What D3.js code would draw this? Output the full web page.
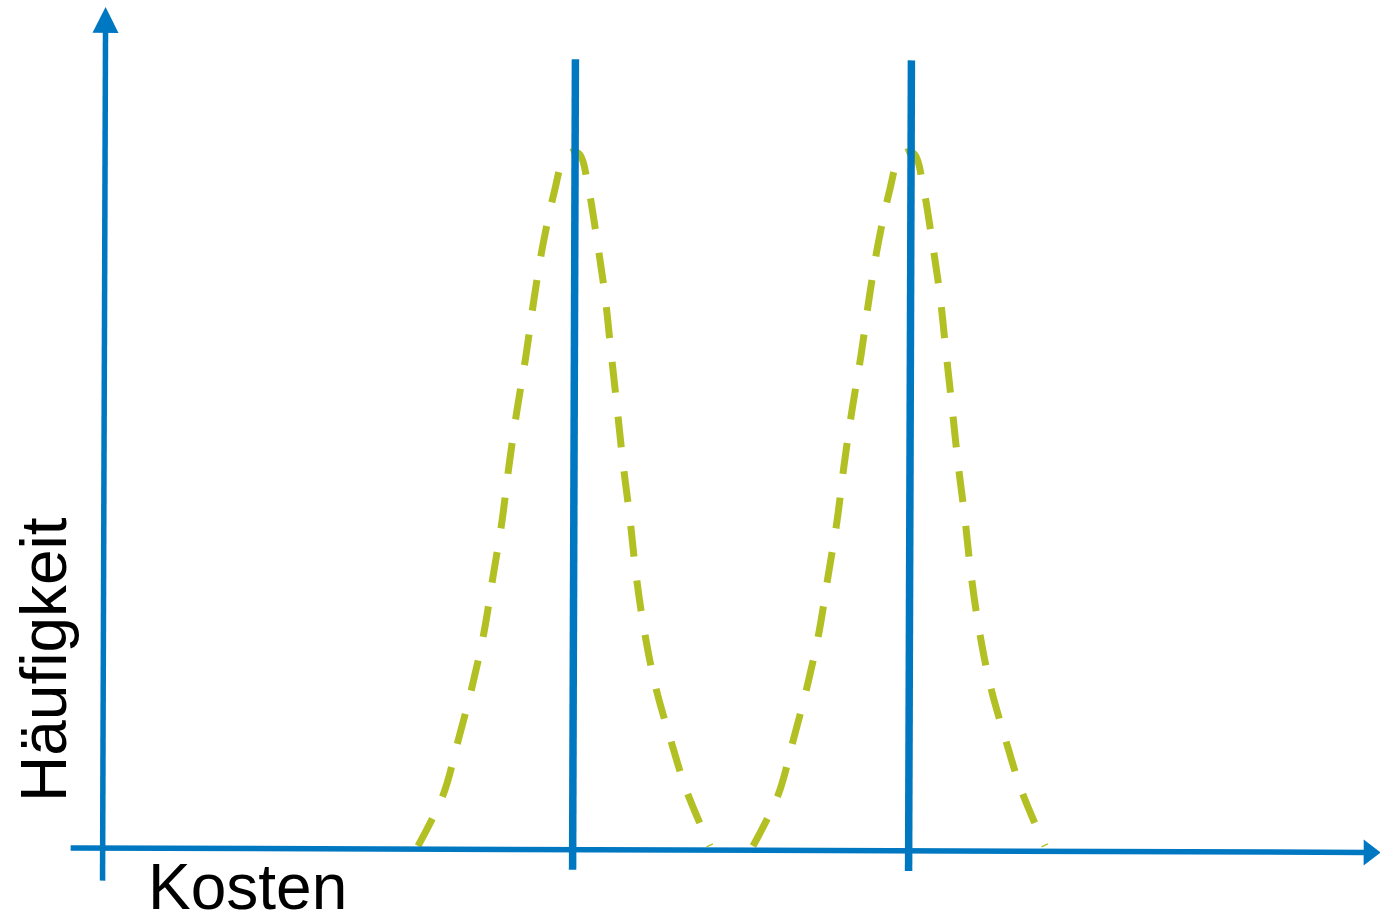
<!DOCTYPE html>
<html lang="de">
	<head>
		<meta charset="utf-8">
		<title>Kosten / Häufigkeit</title>
		<script src="https://d3js.org/d3.v7.min.js" charset="utf-8"></script>
		<style>
			body { margin: 0; background: #fff; }
			svg { display: block; }
		</style>
	</head>
	<body>
		<script type="text/javascript">
			// axis labels
			const xLabel = "Kosten",
				  yLabel = "Häufigkeit";

			// first distribution (cost, frequency)
			const curve1Cost = [31.4, 33.9, 35.4, 36.8, 38.0, 38.9, 39.8, 40.5, 41.3, 42.2, 43.0, 43.9, 45.1, 45.9, 46.8,
								47.6, 48.4, 49.3, 50.1, 50.7, 51.3, 51.9, 52.6, 53.2, 54.0, 55.1, 56.6, 58.3, 60.6];
			const curve1Freq = [0, 7.3, 15.1, 22.9, 30.8, 38.8, 46.8, 54.8, 62.8, 70.7, 78.8, 86.7, 94.7, 98.8, 100,
								99.6, 95.2, 87.3, 79.3, 71.2, 63.3, 55.2, 47.1, 39.2, 31.3, 23.3, 15.6, 7.8, 0];

			// second distribution
			const curve2Cost = [64.9, 67.4, 68.9, 70.3, 71.5, 72.4, 73.3, 74.0, 74.8, 75.7, 76.5, 77.4, 78.6, 79.4, 80.3,
								81.1, 81.9, 82.8, 83.6, 84.2, 84.8, 85.4, 86.1, 86.7, 87.5, 88.6, 90.1, 91.8, 94.1];
			const curve2Freq = [0, 7.3, 15.1, 22.9, 30.8, 38.8, 46.8, 54.8, 62.8, 70.7, 78.8, 86.7, 94.7, 98.8, 100,
								99.6, 95.2, 87.3, 79.3, 71.2, 63.3, 55.2, 47.1, 39.2, 31.3, 23.3, 15.6, 7.8, 0];

			// vertical markers (cost) and their extent (frequency)
			const markerCost = [47.0, 80.6];
			const markerFreq = [-3.5, 113.3];

			// axes extents
			const xAxisCost = [-3.2, 127.8],
				  xAxisFreq = -0.6,
				  yAxisFreq = [-5.3, 120.6];

			const width = 1380,
				  height = 921,
				  blue = "#0077c1",
				  green = "#b3c024",
				  font = "'Liberation Sans', Arial, sans-serif",
				  tilt = 0.2,

				  x = d3.scaleLinear()
				  		.domain([0, 127.6])
				  		.range([104, 1380]),
				  y = d3.scaleLinear()
				  		.domain([0, 100])
				  		.range([846, 152]);

			const svg = d3.select("body").append("svg")
				.attr("width", width)
				.attr("height", height);

			// curves
			const line = d3.line()
				.x(d => x(d[0]))
				.y(d => y(d[1]))
				.curve(d3.curveCatmullRom.alpha(0.5));

			const curves = [
				d3.zip(curve1Cost, curve1Freq),
				d3.zip(curve2Cost, curve2Freq)
			];

			svg.selectAll("path.dist")
				.data(curves)
				.join("path")
				.attr("class", "dist")
				.attr("d", line)
				.attr("fill", "none")
				.attr("stroke", green)
				.attr("stroke-width", 7)
				.attr("stroke-dasharray", "31,24");

			// slightly tilted, hand drawn look
			const g = svg.append("g")
				.attr("transform", `rotate(${tilt},720,465)`);

			g.selectAll("line.marker")
				.data(markerCost)
				.join("line")
				.attr("class", "marker")
				.attr("x1", d => x(d))
				.attr("x2", d => x(d))
				.attr("y1", y(markerFreq[0]))
				.attr("y2", y(markerFreq[1]))
				.attr("stroke", blue)
				.attr("stroke-width", 7.5);

			// y axis
			const yTip = y(yAxisFreq[1]), x0 = x(0);
			g.append("line")
				.attr("x1", x0).attr("x2", x0)
				.attr("y1", y(yAxisFreq[0])).attr("y2", yTip + 24)
				.attr("stroke", blue)
				.attr("stroke-width", 5.5);
			g.append("path")
				.attr("d", `M${x0},${yTip}L${x0 + 13},${yTip + 26}L${x0 - 13},${yTip + 26}Z`)
				.attr("fill", blue);

			// x axis
			const xTip = x(xAxisCost[1]), y0 = y(xAxisFreq);
			g.append("line")
				.attr("x1", x(xAxisCost[0])).attr("x2", xTip - 15)
				.attr("y1", y0).attr("y2", y0)
				.attr("stroke", blue)
				.attr("stroke-width", 5.5);
			g.append("path")
				.attr("d", `M${xTip},${y0}L${xTip - 17},${y0 - 13}L${xTip - 17},${y0 + 13}Z`)
				.attr("fill", blue);

			// labels
			svg.append("text")
				.attr("x", 148)
				.attr("y", 909)
				.attr("font-family", font)
				.attr("font-size", 64)
				.attr("fill", "#000")
				.text(xLabel);

			svg.append("text")
				.attr("transform", "translate(66,802) rotate(-90)")
				.attr("font-family", font)
				.attr("font-size", 64)
				.attr("fill", "#000")
				.text(yLabel);
		</script>
	</body>
</html>
